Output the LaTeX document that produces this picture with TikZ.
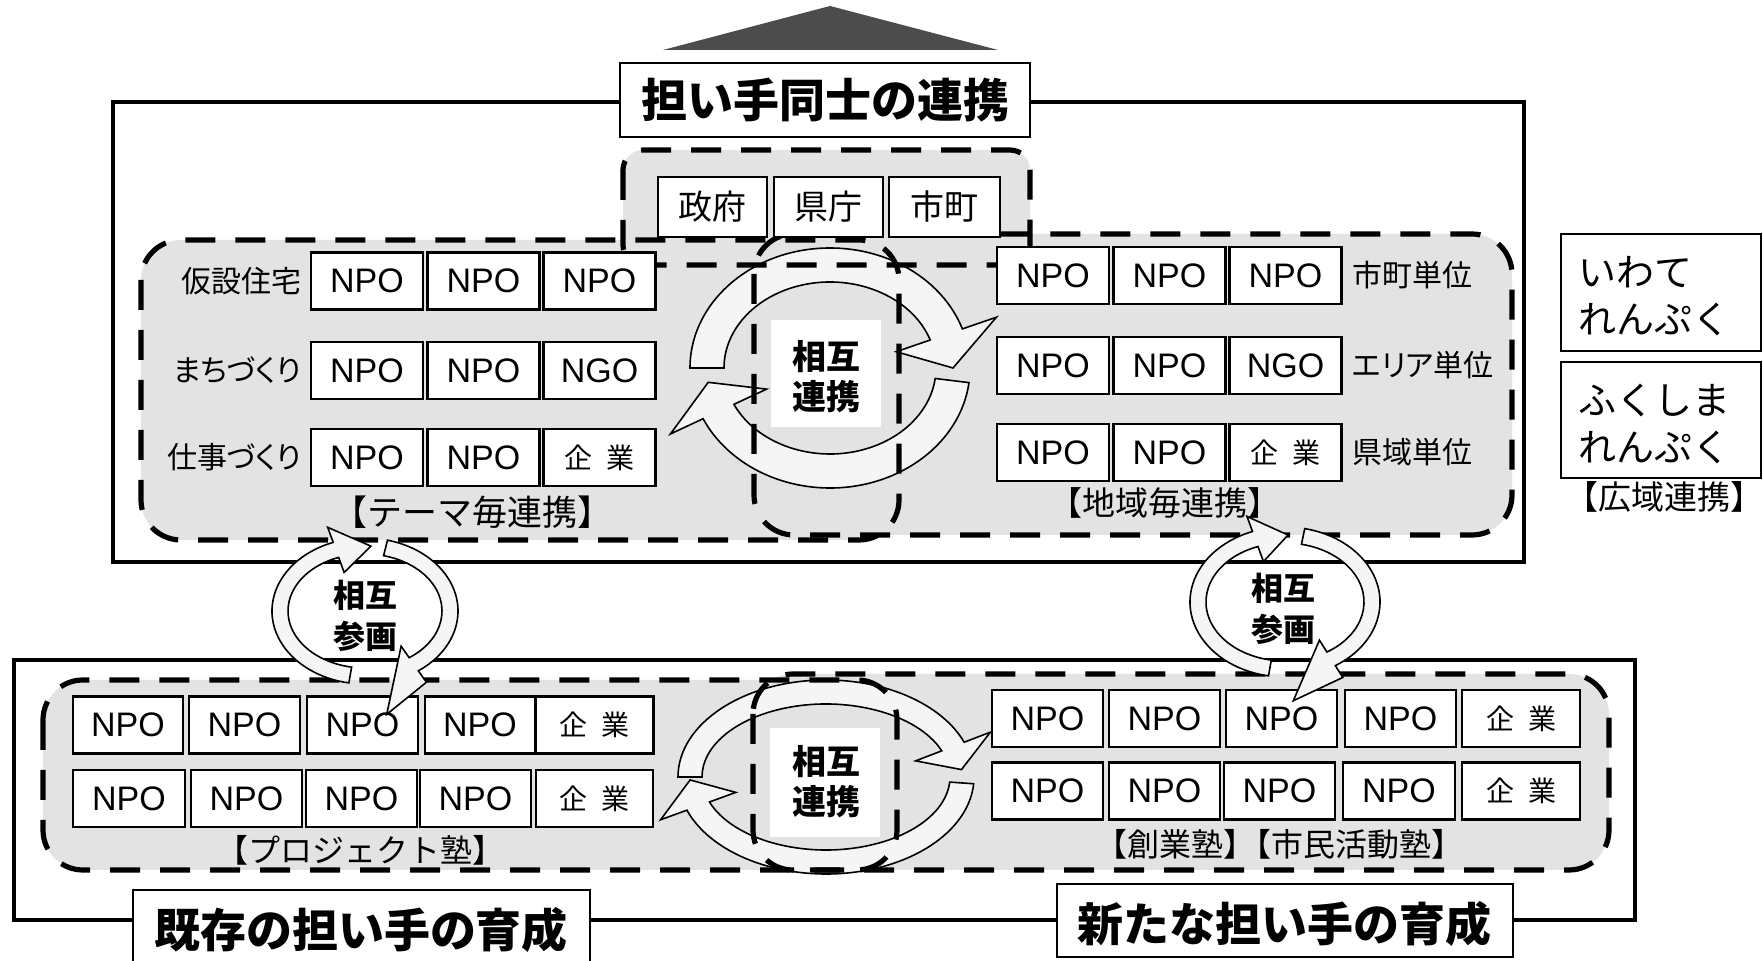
\documentclass[tikz,border=0pt]{standalone}
\usepackage{fontspec}
\setmainfont{Liberation Sans}
\newfontfamily\jp{Noto Sans CJK JP}[BoldFont={Noto Sans CJK JP Bold}]
\newfontfamily\jpp{Noto Sans CJK JP}[BoldFont={Noto Sans CJK JP Bold},RawFeature=+palt]
\newfontfamily\jpblack{Noto Sans CJK JP Black}
\newfontfamily\lat{Liberation Sans}
\usetikzlibrary{calc}

\tikzset{
  frameline/.style={draw=black, line width=2.4pt},
  regfill/.style={fill=black!11, rounded corners=20pt},
  regline/.style={draw=black, line width=2.6pt, dash pattern=on 15pt off 10pt, rounded corners=20pt},
  ebox/.style={draw=black, line width=1.1pt, fill=white, inner sep=0pt, minimum height=28.5pt, minimum width=56pt},
  npo/.style={ebox, font=\lat\fontsize{17}{20}\selectfont},
  kig/.style={ebox, font=\jp\fontsize{14}{16}\selectfont},
  bnpo/.style={npo, minimum width=55.5pt},
  bkig/.style={kig, minimum width=59pt},
  gbox/.style={ebox, minimum width=54.5pt, minimum height=30pt, font=\jp\fontsize{17}{20}\selectfont},
  sidebox/.style={draw=black, line width=1.1pt, fill=white, minimum width=100pt},
  sidetext/.style={font=\jp\fontsize{19}{23.5}\selectfont, align=left, anchor=west, inner sep=0pt},
  titlebox/.style={draw=black, line width=1.3pt, fill=white, inner sep=0pt},
  titletext/.style={font=\jpblack\fontsize{23}{26}\selectfont, inner sep=0pt},
  rowlab/.style={font=\jpp\fontsize{15}{18}\selectfont, inner sep=0pt},
  grouplab/.style={font=\jp\fontsize{16.5}{19}\selectfont, inner sep=0pt},
  ringarr/.style={draw=black, line width=0.8pt, fill=black!4},
  whitesq/.style={fill=white, inner sep=0pt},
  mutual/.style={font=\jpblack\fontsize{17}{20}\selectfont, align=center, inner sep=0pt},
  mutuals/.style={font=\jpblack\fontsize{16}{20.5}\selectfont, align=center, inner sep=0pt},
}

% ring arrow: rx, ry, half width, head half width, start angle, base angle, tip angle, tip offset
\newcommand\RArrow[8]{%
  \pgfmathsetmacro\ROx{#1+#3}\pgfmathsetmacro\ROy{#2+#3}%
  \pgfmathsetmacro\RIx{#1-#3}\pgfmathsetmacro\RIy{#2-#3}%
  \pgfmathsetmacro\RHOx{#1+#4}\pgfmathsetmacro\RHOy{#2+#4}%
  \pgfmathsetmacro\RHIx{#1-#4}\pgfmathsetmacro\RHIy{#2-#4}%
  \pgfmathsetmacro\RTx{#1+#8}\pgfmathsetmacro\RTy{#2+#8}%
  \draw[ringarr] (#5:{\ROx} and {\ROy})
    arc[start angle=#5, end angle=#6, x radius=\ROx, y radius=\ROy]
    -- (#6:{\RHOx} and {\RHOy}) -- (#7:{\RTx} and {\RTy})
    -- (#6:{\RHIx} and {\RHIy}) -- (#6:{\RIx} and {\RIy})
    arc[start angle=#6, end angle=#5, x radius=\RIx, y radius=\RIy] -- cycle;}

\begin{document}
\begin{tikzpicture}[x=0.5pt, y=-0.5pt]
\fill[white] (0,0) rectangle (1763,961);
\useasboundingbox (0,0) rectangle (1763,961);

% roof
\fill[black!70] (663,50) -- (998,50) -- (830,6) -- cycle;

% top frame and title
\draw[frameline] (113,102) rectangle (1524,562);
\node[titlebox, titletext, minimum width=205pt, minimum height=37pt] (t1) at (825,100) {担い手同士の連携};

% top regions fills
\fill[regfill] (141,240) rectangle (899,540);
\fill[regfill] (754,234) rectangle (1512,535);
\fill[regfill, rounded corners=10pt] (623,150) rectangle (1030,265);

% upper center ring
\begin{scope}[shift={(830,368)}]
  \RArrow{123}{103}{17}{53}{180}{341}{360}{0}
  \RArrow{123}{103}{17}{53}{7}{155}{172}{0}
\end{scope}
\node[whitesq, minimum width=55pt, minimum height=53.5pt] (sq1) at (826,373.5) {};

% dashed borders
\draw[regline] (141,240) rectangle (899,540);
\draw[regline] (754,234) rectangle (1512,535);
\draw[regline, rounded corners=10pt] (623,150) rectangle (1030,265);

% government boxes
\node[gbox] (g1) at (712.5,207) {政府};
\node[gbox] (g2) at (828.5,207) {県庁};
\node[gbox, minimum width=55.5pt] (g3) at (944.5,207) {市町};

% theme boxes
\node[rowlab, anchor=east] (l1) at (302,281) {仮設住宅};
\node[rowlab, anchor=east] (l2) at (302,370.5) {まちづくり};
\node[rowlab, anchor=east] (l3) at (302,457.5) {仕事づくり};
\node[npo] (a11) at (367,281) {NPO};
\node[npo] (a12) at (483.5,281) {NPO};
\node[npo] (a13) at (599.5,281) {NPO};
\node[npo] (a21) at (367,370.5) {NPO};
\node[npo] (a22) at (483.5,370.5) {NPO};
\node[npo] (a23) at (599.5,370.5) {NGO};
\node[npo] (a31) at (367,457.5) {NPO};
\node[npo] (a32) at (483.5,457.5) {NPO};
\node[kig] (a33) at (599.5,457.5) {企\hspace{7pt}業};
\node[grouplab, font=\jp\fontsize{17.5}{20}\selectfont] (gl1) at (472,512) {【テーマ毎連携】};

% area boxes
\node[npo] (b11) at (1053,275.5) {NPO};
\node[npo] (b12) at (1169.5,275.5) {NPO};
\node[npo] (b13) at (1285.5,275.5) {NPO};
\node[npo] (b21) at (1053,365.5) {NPO};
\node[npo] (b22) at (1169.5,365.5) {NPO};
\node[npo] (b23) at (1285.5,365.5) {NGO};
\node[npo] (b31) at (1053,452.5) {NPO};
\node[npo] (b32) at (1169.5,452.5) {NPO};
\node[kig] (b33) at (1285.5,452.5) {企\hspace{7pt}業};
\node[rowlab, anchor=west] (r1) at (1352,275.5) {市町単位};
\node[rowlab, anchor=west] (r2) at (1352,365.5) {エリア単位};
\node[rowlab, anchor=west] (r3) at (1352,452.5) {県域単位};
\node[grouplab] (gl2) at (1165,503) {【地域毎連携】};

% center text
\node[mutual] (m1) at (826,377) {相互\\連携};

% wide-area boxes
\node[sidebox, minimum height=58.5pt] (s1) at (1661,292.5) {};
\node[sidetext] (s1t) at (1578,296.5) {いわて\\れんぷく};
\node[sidebox, minimum height=58pt] (s2) at (1661,420) {};
\node[sidetext] (s2t) at (1578,423.5) {ふくしま\\れんぷく};
\node[grouplab] (gl3) at (1664,497) {【広域連携】};

% bottom frame
\draw[frameline] (14,660) rectangle (1635,920);
\fill[regfill] (43,680) rectangle (897,870);
\fill[regfill] (753,674) rectangle (1609,870);

% lower center ring
\begin{scope}[shift={(826,777)}]
  \RArrow{136}{85}{12}{40}{180}{339}{355}{0}
  \RArrow{136}{85}{12}{40}{4}{160}{178}{0}
\end{scope}
\node[whitesq, minimum width=55pt, minimum height=54.5pt] (sq2) at (825,782.5) {};

\draw[regline] (43,680) rectangle (897,870);
\draw[regline] (753,674) rectangle (1609,870);

% project school boxes
\node[bnpo, minimum width=55pt] (c11) at (128,725) {NPO};
\node[bnpo] (c12) at (244.5,725) {NPO};
\node[bnpo] (c13) at (362.5,725) {NPO};
\node[bnpo, minimum width=55pt] (c14) at (480,725) {NPO};
\node[bkig] (c15) at (594.5,725) {企\hspace{7pt}業};
\node[bnpo, minimum width=56pt] (c21) at (129,798.5) {NPO};
\node[bnpo] (c22) at (246.5,798.5) {NPO};
\node[bnpo] (c23) at (361.5,798.5) {NPO};
\node[bnpo] (c24) at (475.5,798.5) {NPO};
\node[bkig, minimum width=58.5pt] (c25) at (594.5,798.5) {企\hspace{7pt}業};
\node[grouplab, font=\jp\fontsize{16}{18}\selectfont] (gl4) at (360,850) {【プロジェクト塾】};

% start-up school boxes
\node[bnpo] (d11) at (1047.5,718.5) {NPO};
\node[bnpo] (d12) at (1164.5,718.5) {NPO};
\node[bnpo] (d13) at (1281.5,718.5) {NPO};
\node[bnpo] (d14) at (1400.5,718.5) {NPO};
\node[bkig] (d15) at (1521,718.5) {企\hspace{7pt}業};
\node[bnpo] (d21) at (1047.5,791) {NPO};
\node[bnpo] (d22) at (1164.5,791) {NPO};
\node[bnpo] (d23) at (1279.5,791) {NPO};
\node[bnpo, minimum width=56pt] (d24) at (1399,791) {NPO};
\node[bkig] (d25) at (1521,791) {企\hspace{7pt}業};
\node[grouplab, font=\jp\fontsize{16}{18}\selectfont] (gl5) at (1279,844) {【創業塾】\kern-8pt【市民活動塾】};

\node[mutual] (m2) at (826,782) {相互\\連携};

% bottom titles
\node[titlebox, minimum width=228.5pt, minimum height=42.5pt] (t2) at (361.5,932.5) {};
\node[titletext] (t2t) at (361,930) {既存の担い手の育成};
\node[titlebox, minimum width=228pt, minimum height=36.5pt] (t3) at (1285,920.5) {};
\node[titletext] (t3t) at (1284,924) {新たな担い手の育成};

% mutual participation rings
\begin{scope}[shift={(365,611)}]
  \RArrow{85}{65}{8}{24}{100}{250}{274}{0}
  \RArrow{85}{65}{8}{22}{284}{415}{440}{40}
\end{scope}
\node[mutuals] (p1) at (365,616) {相互\\参画};
\begin{scope}[shift={(1285,602)}]
  \RArrow{87}{67}{8}{24}{100}{250}{272}{0}
  \RArrow{87}{67}{8}{22}{282}{418}{446}{32}
\end{scope}
\node[mutuals] (p2) at (1283,609) {相互\\参画};
\end{tikzpicture}
\end{document}
